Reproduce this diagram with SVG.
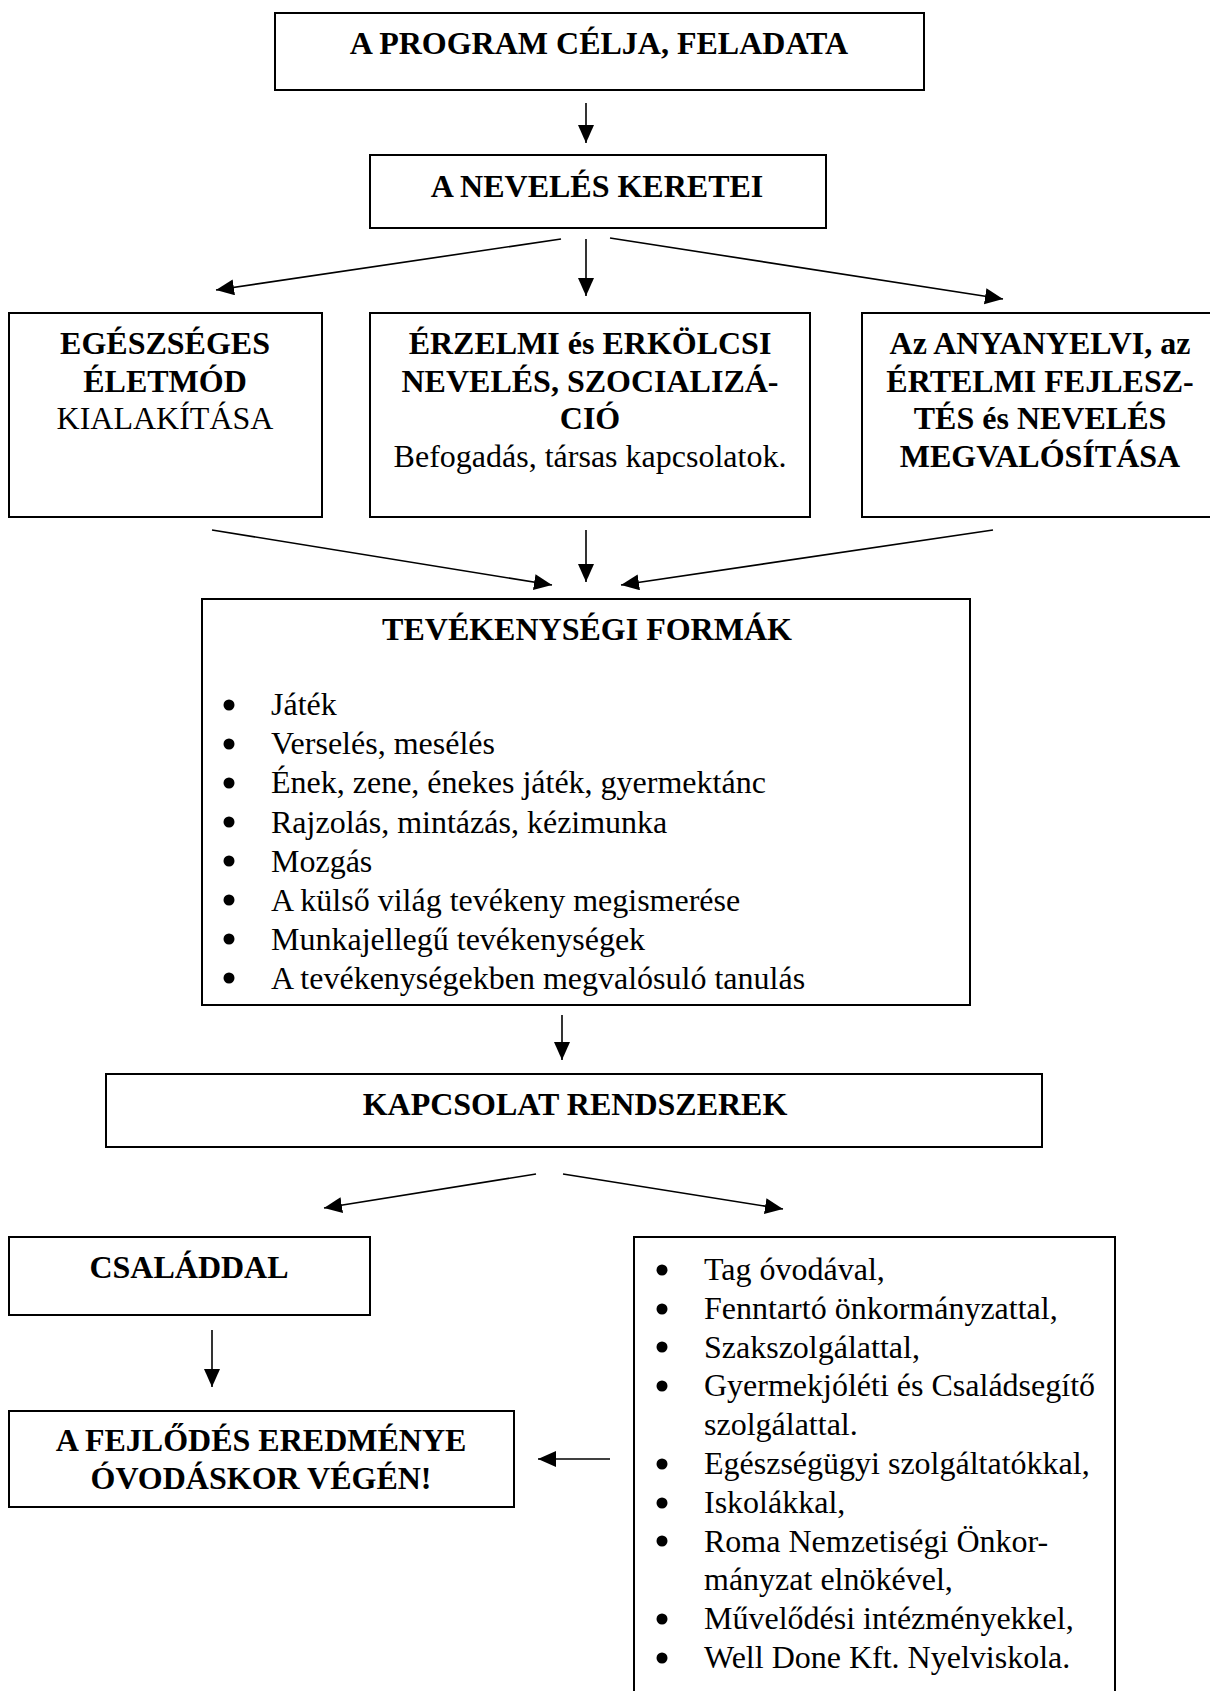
<svg xmlns="http://www.w3.org/2000/svg" width="1210" height="1691" viewBox="0 0 1210 1691">
<defs>
<style>
.box{fill:#fff;stroke:#000;stroke-width:2}
.t{font-family:"Liberation Serif","Times New Roman",serif;font-size:32px;fill:#000}
.b{font-weight:bold}
.c{text-anchor:middle}
.arr{stroke:#000;stroke-width:1.6;fill:none;marker-end:url(#ah)}
.dot{fill:#000}
</style>
<marker id="ah" markerUnits="userSpaceOnUse" markerWidth="20" markerHeight="18" refX="18" refY="8" orient="auto">
<path d="M0,0 L18,8 L0,16 z" fill="#000"/>
</marker>
</defs>
<rect width="1210" height="1691" fill="#fff"/>

<g id="connectors">
<line class="arr" x1="586" y1="103" x2="586" y2="143"/>
<line class="arr" x1="561" y1="239" x2="216" y2="290"/>
<line class="arr" x1="586" y1="239" x2="586" y2="296"/>
<line class="arr" x1="610" y1="238" x2="1003" y2="299"/>
<line class="arr" x1="212" y1="530" x2="552" y2="585"/>
<line class="arr" x1="586" y1="530" x2="586" y2="582"/>
<line class="arr" x1="993" y1="530" x2="621" y2="585"/>
<line class="arr" x1="562" y1="1015" x2="562" y2="1060"/>
<line class="arr" x1="536" y1="1174" x2="324" y2="1208"/>
<line class="arr" x1="563" y1="1174" x2="783" y2="1209"/>
<line class="arr" x1="212" y1="1330" x2="212" y2="1387"/>
<line class="arr" x1="610" y1="1459" x2="538" y2="1459"/>
</g>

<g id="node-program">
<rect class="box" x="275" y="13" width="649" height="77"/>
<text class="t b c" x="599" y="54">A PROGRAM CÉLJA, FELADATA</text>
</g>

<g id="node-kereti">
<rect class="box" x="370" y="155" width="456" height="73"/>
<text class="t b c" x="597" y="197">A NEVELÉS KERETEI</text>
</g>

<g id="node-egeszseg">
<rect class="box" x="9" y="313" width="313" height="204"/>
<text class="t c" x="165" y="354"><tspan class="b">EGÉSZSÉGES</tspan><tspan class="b" x="165" dy="37.5">ÉLETMÓD</tspan><tspan x="165" dy="37.5">KIALAKÍTÁSA</tspan></text>
</g>

<g id="node-erzelmi">
<rect class="box" x="370" y="313" width="440" height="204"/>
<text class="t c" x="590" y="354"><tspan class="b">ÉRZELMI és ERKÖLCSI</tspan><tspan class="b" x="590" dy="37.5">NEVELÉS, SZOCIALIZÁ-</tspan><tspan class="b" x="590" dy="37.5">CIÓ</tspan><tspan x="590" dy="37.5">Befogadás, társas kapcsolatok.</tspan></text>
</g>

<g id="node-anyanyelv">
<rect class="box" x="862" y="313" width="360" height="204"/>
<text class="t b c" x="1040" y="354"><tspan>Az ANYANYELVI, az</tspan><tspan x="1040" dy="37.5">ÉRTELMI FEJLESZ-</tspan><tspan x="1040" dy="37.5">TÉS és NEVELÉS</tspan><tspan x="1040" dy="37.5">MEGVALÓSÍTÁSA</tspan></text>
</g>

<g id="node-tevekenyseg">
<rect class="box" x="202" y="599" width="768" height="406"/>
<text class="t b c" x="587" y="640">TEVÉKENYSÉGI FORMÁK</text>
<circle class="dot" cx="229" cy="705" r="5.5"/>
<circle class="dot" cx="229" cy="744" r="5.5"/>
<circle class="dot" cx="229" cy="783" r="5.5"/>
<circle class="dot" cx="229" cy="822" r="5.5"/>
<circle class="dot" cx="229" cy="861" r="5.5"/>
<circle class="dot" cx="229" cy="900" r="5.5"/>
<circle class="dot" cx="229" cy="939" r="5.5"/>
<circle class="dot" cx="229" cy="978" r="5.5"/>
<text class="t" x="271" y="715"><tspan>Játék</tspan><tspan x="271" dy="39.2">Verselés, mesélés</tspan><tspan x="271" dy="39.2">Ének, zene, énekes játék, gyermektánc</tspan><tspan x="271" dy="39.2">Rajzolás, mintázás, kézimunka</tspan><tspan x="271" dy="39.2">Mozgás</tspan><tspan x="271" dy="39.2">A külső világ tevékeny megismerése</tspan><tspan x="271" dy="39.2">Munkajellegű tevékenységek</tspan><tspan x="271" dy="39.2">A tevékenységekben megvalósuló tanulás</tspan></text>
</g>

<g id="node-kapcsolat">
<rect class="box" x="106" y="1074" width="936" height="73"/>
<text class="t b c" x="575" y="1115">KAPCSOLAT RENDSZEREK</text>
</g>

<g id="node-csaladdal">
<rect class="box" x="9" y="1237" width="361" height="78"/>
<text class="t b c" x="189" y="1278">CSALÁDDAL</text>
</g>

<g id="node-fejlodes">
<rect class="box" x="9" y="1411" width="505" height="96"/>
<text class="t b c" x="261" y="1451"><tspan>A FEJLŐDÉS EREDMÉNYE</tspan><tspan x="261" dy="38">ÓVODÁSKOR VÉGÉN!</tspan></text>
</g>

<g id="node-partnerek">
<rect class="box" x="634" y="1237" width="481" height="480"/>
<circle class="dot" cx="662" cy="1270" r="5.5"/>
<circle class="dot" cx="662" cy="1309" r="5.5"/>
<circle class="dot" cx="662" cy="1347" r="5.5"/>
<circle class="dot" cx="662" cy="1386" r="5.5"/>
<circle class="dot" cx="662" cy="1464" r="5.5"/>
<circle class="dot" cx="662" cy="1503" r="5.5"/>
<circle class="dot" cx="662" cy="1541" r="5.5"/>
<circle class="dot" cx="662" cy="1619" r="5.5"/>
<circle class="dot" cx="662" cy="1658" r="5.5"/>
<text class="t" x="704" y="1280"><tspan>Tag óvodával,</tspan><tspan x="704" dy="38.8">Fenntartó önkormányzattal,</tspan><tspan x="704" dy="38.8">Szakszolgálattal,</tspan><tspan x="704" dy="38.8">Gyermekjóléti és Családsegítő</tspan><tspan x="704" dy="38.8">szolgálattal.</tspan><tspan x="704" dy="38.8">Egészségügyi szolgáltatókkal,</tspan><tspan x="704" dy="38.8">Iskolákkal,</tspan><tspan x="704" dy="38.8">Roma Nemzetiségi Önkor-</tspan><tspan x="704" dy="38.8">mányzat elnökével,</tspan><tspan x="704" dy="38.8">Művelődési intézményekkel,</tspan><tspan x="704" dy="38.8">Well Done Kft. Nyelviskola.</tspan></text>
</g>
</svg>
